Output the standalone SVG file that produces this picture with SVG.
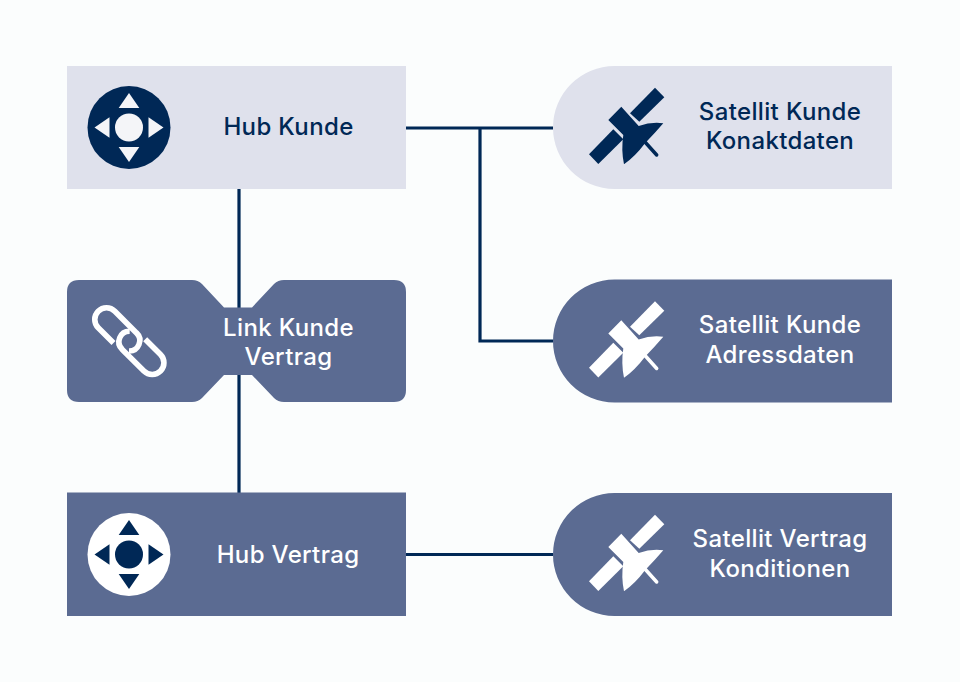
<svg xmlns="http://www.w3.org/2000/svg" width="960" height="682" viewBox="0 0 960 682">
<style>
.t{font-family:Inter,"Liberation Sans",sans-serif;font-size:24px;font-weight:500;letter-spacing:.35px;text-anchor:middle}
.n{fill:#002856}.w{fill:#fff}
.lt{fill:#dfe1ec}.md{fill:#5b6b92}
.c{fill:none;stroke:#002856;stroke-width:3.2}
.lk{fill:none;stroke:#fff;stroke-width:5.6}
</style>
<defs>
<g id="arrows">
<polygon points="129,93 139.3,108 118.7,108"/>
<polygon points="129,162 139.3,147 118.7,147"/>
<polygon points="94.5,127.5 109.5,117.3 109.5,137.7"/>
<polygon points="163.5,127.5 148.5,117.3 148.5,137.7"/>
</g>
<g id="sat">
<polygon points="655,87.700 664.300,97.300 639.300,121.700 630,113.300"/>
<polygon points="613.300,129.300 623.300,139.300 598.300,164 589,154.300"/>
<path d="M621.300 106.700L608.300 120L623.300 135Q621 150 624 164.300Q635 156.700 645 143.300Q655 133 663.300 123.300Q651 121.700 638.700 126Z"/>
<path d="M645 142L656.700 155" fill="none" stroke-width="3.500" stroke-linecap="round"/>
</g>
<path id="d" d="M553 127.500A61.500 61.500 0 0 1 614.500 66H892V189H614.500A61.500 61.500 0 0 1 553 127.500Z"/>
</defs>
<rect width="960" height="682" fill="#fbfdfd"/>
<g id="connectors">
<path class="c" d="M406 128H553M480 128V341H553M239 189V493M406 554.500H553"/>
</g>
<g id="hub-kunde">
<rect class="lt" x="67" y="66" width="339" height="123"/>
<circle class="n" cx="129" cy="127.500" r="41.500"/>
<use href="#arrows" fill="#f4f5f8"/>
<circle cx="129" cy="127.500" r="14" fill="#f4f5f8"/>
<text class="t" x="288.500" y="135" fill="#002856">Hub Kunde</text>
</g>
<g id="sat-kontakt">
<use href="#d" class="lt"/>
<use href="#sat" fill="#002856" stroke="#002856" stroke-width="0"/>
<text class="t" x="780" y="120" fill="#002856">Satellit Kunde</text>
<text class="t" x="780" y="149" fill="#002856">Konaktdaten</text>
</g>
<g id="link">
<path class="md" d="M79 280H192Q198 280 202 284L224 307.500H252L274 284Q278 280 284 280H394Q406 280 406 292V390Q406 402 394 402H284Q278 402 274 398L252 375H224L202 398Q198 402 192 402H79Q67 402 67 390V292Q67 280 79 280Z"/>
<path id="lk1" class="lk" d="M113.500 343.100L98.200 327.800A11.700 11.700 0 0 1 114.800 311.200L136.500 332.900A10.500 10.500 0 0 1 129 351"/>
<use href="#lk1" transform="rotate(180 129.350 341.150)"/>
<text class="t w" x="288.500" y="335.700">Link Kunde</text>
<text class="t w" x="288.500" y="365">Vertrag</text>
</g>
<g id="sat-adresse">
<use href="#d" class="md" y="213.500"/>
<use href="#sat" y="213.500" fill="#fff" stroke="#fff" stroke-width="0"/>
<text class="t w" x="780" y="333" >Satellit Kunde</text>
<text class="t w" x="780" y="362.500">Adressdaten</text>
</g>
<g id="hub-vertrag">
<rect class="md" x="67" y="492.500" width="339" height="123.500"/>
<circle class="w" cx="129" cy="554.500" r="41.500"/>
<use href="#arrows" y="427" fill="#002856"/>
<circle class="n" cx="129" cy="554.500" r="14"/>
<text class="t w" x="288" y="562.700">Hub Vertrag</text>
</g>
<g id="sat-konditionen">
<use href="#d" class="md" y="427"/>
<use href="#sat" y="427" fill="#fff" stroke="#fff" stroke-width="0"/>
<text class="t w" x="780" y="547.300">Satellit Vertrag</text>
<text class="t w" x="780" y="576.700">Konditionen</text>
</g>
</svg>
